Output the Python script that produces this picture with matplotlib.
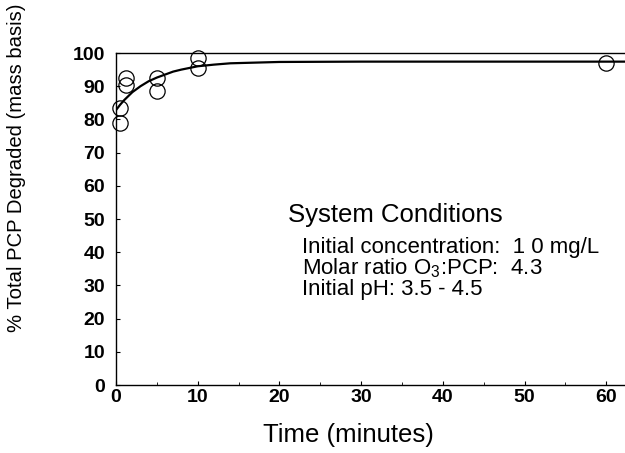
import matplotlib
matplotlib.use("Agg")
import matplotlib.pyplot as plt
from matplotlib.ticker import MultipleLocator

plt.rcParams['font.family'] = ['Liberation Sans', 'DejaVu Sans']
plt.rcParams['mathtext.default'] = 'regular'

# Observed data (open circles)
obs_time = [0.5, 0.5, 1.2, 1.2, 5.0, 5.0, 10.0, 10.0, 60.0]
obs_degraded = [83.5, 79.0, 92.5, 90.5, 92.5, 88.5, 98.5, 95.5, 97.0]

# Fitted curve
fit_time = [0, 0.5, 1, 1.5, 2, 3, 4, 5, 6, 7, 8, 9, 10, 12, 14, 17, 20, 30, 62.3]
fit_degraded = [82.8, 84.4, 85.8, 87.0, 88.2, 90.0, 91.5, 92.6, 93.5, 94.4,
                95.0, 95.5, 96.0, 96.5, 96.9, 97.1, 97.3, 97.4, 97.4]

x_ticks = [0, 10, 20, 30, 40, 50, 60]
y_ticks = [0, 10, 20, 30, 40, 50, 60, 70, 80, 90, 100]

conditions_title = "System Conditions"
conditions = ["Initial concentration:  1 0 mg/L",
              "Molar ratio O$_3$:PCP:  4.3",
              "Initial pH: 3.5 - 4.5"]

W, H = 625, 453
fig = plt.figure(figsize=(W / 100, H / 100), dpi=100)
ax = fig.add_axes([116 / W, 1 - 385 / H, 1 - 116 / W, (385 - 53) / H])

ax.plot(fit_time, fit_degraded, color='black', lw=1.6, zorder=3)
ax.plot(obs_time, obs_degraded, linestyle='none', marker='o', ms=11,
        mfc='none', mec='black', mew=0.9, zorder=4, clip_on=False)

ax.set_xlim(0, 62.3)
ax.set_ylim(0, 100)
ax.set_xticks(x_ticks)
ax.set_yticks(y_ticks)
ax.xaxis.set_minor_locator(MultipleLocator(5))
ax.tick_params(direction='in', length=3, width=0.8, labelsize=14)
ax.tick_params(axis='y', pad=8)
ax.tick_params(axis='x', pad=3)
ax.tick_params(which='minor', direction='in', length=2, width=0.6)
for lab in ax.get_xticklabels() + ax.get_yticklabels():
    lab.set_fontweight('bold')

ax.spines['right'].set_visible(False)
for s in ['left', 'bottom', 'top']:
    ax.spines[s].set_linewidth(1.0)

fig.text(348 / W, 1 - 435 / H, "Time (minutes)", fontsize=18.5,
         ha='center', va='center')
fig.text(17 / W, 1 - 168 / H, "% Total PCP Degraded (mass basis)",
         fontsize=14.6, rotation=90, ha='center', va='center')

fig.text(288 / W, 1 - 215 / H, conditions_title, fontsize=18.5,
         ha='left', va='center')
for i, line in enumerate(conditions):
    fig.text(302 / W, 1 - (247 + 21.5 * i) / H, line, fontsize=16,
             ha='left', va='center')

fig.savefig("out.png", dpi=100)
